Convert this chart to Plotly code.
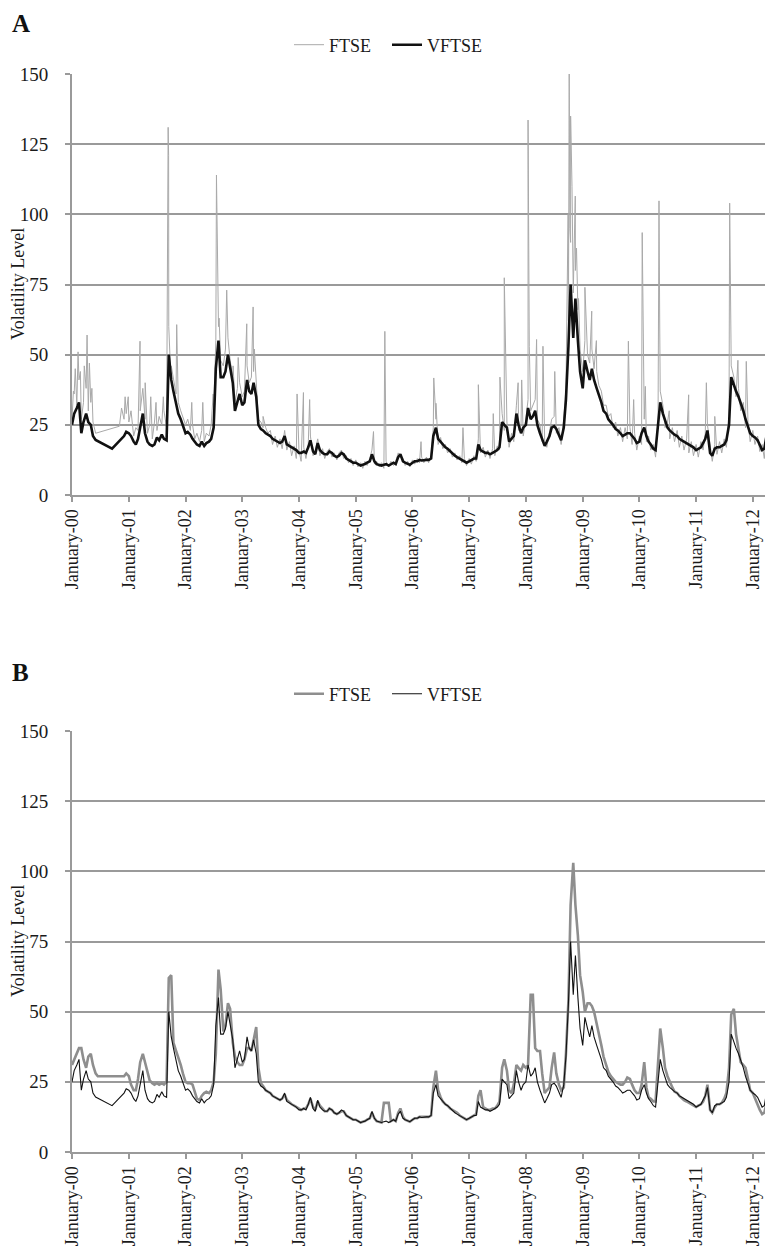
import plotly.graph_objects as go

N = None

# semi-monthly observation dates (1st and 15th of each month), Jan 2000 - May 2012
dates = []
for yr in range(2000, 2013):
    for mo in range(1, 13):
        if yr == 2012 and mo > 5:
            break
        dates.append(f"{yr}-{mo:02d}-01")
        dates.append(f"{yr}-{mo:02d}-15")

# VFTSE implied volatility (same series in both panels)
vftse = (
    [25, 29, 31, 33, 22, 26, 29, 26, 25, 21, 19.6, N, N, N, N, N, N, 16.5, N, N, N, N, 21, 22.5]      # 2000
    + [22, 21, 19, 18, 20, 24, 29, 22, 19, 18, 17.5, 18, 20.5, 19.5, 21.5, 20, 19.5, 50, 41, 37, 32, 29, 27, 25]  # 2001
    + [22, 22.5, 21.5, 20, 19, 18, 17.5, 19, 17.5, 18.5, 19, 20, 24, 45, 55, 42, 42, 44, 50, 46, 40, 30, 33, 36]  # 2002
    + [32, 33, 41, 37, 36, 40, 35, 25, 23.5, 23, 22, 21.5, 21, 20, 19.5, 19, 18.5, 19, 21, 18, 17.5, 17, 16.5, 16]  # 2003
    + [15, 15, 15.5, 15, 17, 19.5, 15.5, 14.5, 18.5, 16, 15, 14.5, 14.5, 15.5, 15, 14, 13.5, 14, 15, 14.5, 13, 12.5, 12, 11.5]  # 2004
    + [11.5, 11, 10.5, 10.8, 11, 11.5, 12, 14.5, 12, 11, 10.8, 10.5, 10.8, 11, 10.5, 11, 11.5, 11, 13.5, 14.5, 12, 11.5, 11, 10.8]  # 2005
    + [11.5, 12, 12, 12.5, 12.3, 12.5, 12.5, 12.5, 13, 21, 24, 20, 19, 18, 17, 16.5, 15.5, 15, 14, 13.5, 13, 12.5, 12, 11.5]  # 2006
    + [12, 12.5, 13, 13, 18, 16, 15.5, 15, 15, 14.5, 15, 15.5, 16, 17, 26, 25, 24, 19, 20, 21, 29, 25, 22, 24]  # 2007
    + [25, 31, 27, 28, 30, 25, 22, 20, 17.5, 19, 21, 24, 24.5, 23.5, 21, 19.5, 24, 34, 53, 75, 56, 70, 55, 44]  # 2008
    + [38, 48, 44, 41, 45, 41, 38, 36, 33, 30, 29, 27, 26, 25, 23.5, 23, 22, 21, 21.5, 22, 22, 21, 20, 18.5]  # 2009
    + [19, 22, 24, 21, 19, 18, 16.5, 16, 24, 33, 29, 27, 24, 23, 22, 21.5, 21, 20, 19.5, 19, 18.5, 18, 17.5, 17]  # 2010
    + [16, 16.5, 17, 18.5, 20, 23, 15, 14, 16.5, 17, 17, 17.5, 18, 19.5, 25, 42, 39, 37, 35, 33, 30, 27, 24, 22]  # 2011
    + [21, 20.5, 19.5, 18, 16, 16.5, 22, 23.5, 24, 23]  # 2012
)

# FTSE realised volatility, panel A (daily, noisy) - base level
ftse_a = (
    [27, 36, 32, 41, 27, 33, 38, 30, 33, 26, 22, N, N, N, N, N, N, N, N, N, 24.5, 31, 27, 29]  # 2000
    + [26, 30, 21, 24, 23, 30, 38, 27, 22, 25, 20, 26, 23, 28, 25, 30, 24, 60, 46, 42, 36, 33, 30, 28]  # 2001
    + [25, 27, 23, 25, 20, 22, 19, 23, 19, 22, 21, 25, 30, 55, 60, 48, 46, 52, 56, 48, 42, 33, 38, 40]  # 2002
    + [35, 37, 46, 40, 42, 44, 38, 27, 26, 24, 24, 22, 23, 18, 21, 17, 20, 16.5, 22, 16, 19, 14, 17.5, 13]  # 2003
    + [16, 12, 17, 13, 18, 21, 14, 16, 20, 14, 16.5, 13, 15.5, 16.5, 13.5, 15, 12.5, 15, 16, 13, 14, 11.5, 13, 10.5]  # 2004
    + [12.5, 10, 11.5, 9.5, 12, 10.5, 13, 16, 11, 12, 10, 11.5, 9.5, 12, 10, 12, 10.5, 12, 15, 13.5, 13, 10.5, 12, 10]  # 2005
    + [12.5, 11, 13, 11.5, 13.5, 11.5, 13.5, 11.5, 14, 24, 27, 18, 20.5, 16.5, 18, 15, 16.5, 13.5, 15, 12.5, 14, 11.5, 13, 10.5]  # 2006
    + [13, 11, 14, 12, 20, 15, 17, 13.5, 16, 13, 16.5, 14, 17.5, 16, 29, 23, 26, 17, 22, 19, 32, 23, 25, 21]  # 2007
    + [27, 34, 30, 32, 34, 27, 25, 19, 19, 17, 23, 27, 28, 22, 24, 18, 27, 38, 62, 90, 72, 80, 66, 52]  # 2008
    + [44, 55, 50, 47, 52, 45, 44, 39, 37, 32, 32, 28, 29, 24, 26, 21, 24, 19, 24, 20, 24, 18, 22, 16]  # 2009
    + [21, 18, 27, 19, 21, 16, 18, 13.5, 27, 37, 32, 24, 26, 20, 24, 19, 23, 17, 21, 16, 20, 15, 19, 14]  # 2010
    + [18, 13.5, 19, 16, 22, 25, 17, 12, 18, 14.5, 19, 15, 20, 17, 28, 46, 42, 35, 38, 30, 33, 24, 26, 19]  # 2011
    + [23, 18, 21, 15.5, 18, 13, 24, 20, 26, 21]  # 2012
)

# FTSE panel A: isolated daily spikes
spike_dates = [
    "2000-01-10", "2000-01-22", "2000-02-09", "2000-02-24", "2000-03-20", "2000-04-07", "2000-04-22", "2000-05-08",
    "2000-12-08", "2000-12-28", "2001-03-14", "2001-04-16", "2001-05-22", "2001-06-25", "2001-08-11", "2001-09-11",
    "2001-09-14", "2001-09-26", "2001-11-05",
    "2002-02-10", "2002-04-22", "2002-06-28", "2002-07-19", "2002-07-24", "2002-08-05", "2002-09-23", "2002-11-03", "2002-12-06",
    "2003-01-30", "2003-03-12", "2003-03-20", "2003-05-15", "2003-10-01",
    "2003-12-20", "2004-01-30", "2004-03-10",
    "2005-04-25", "2005-07-07", "2005-07-12",
    "2006-02-25", "2006-05-18", "2006-06-01", "2006-11-22",
    "2007-03-01", "2007-06-05", "2007-07-18", "2007-08-15", "2007-11-12", "2007-12-05",
    "2008-01-15", "2008-01-23", "2008-03-10", "2008-04-20", "2008-07-05", "2008-09-29", "2008-10-06", "2008-10-10",
    "2008-10-15", "2008-10-24", "2008-11-14", "2008-11-22", "2008-12-05",
    "2009-01-15", "2009-02-28", "2009-03-30", "2009-10-22", "2009-11-25",
    "2010-01-19", "2010-02-08", "2010-05-07", "2010-05-12", "2010-07-12", "2010-11-14",
    "2011-03-08", "2011-05-01", "2011-08-05", "2011-08-10", "2011-09-27", "2011-11-20",
]
spike_values = [
    37, 45, 51, 44, 46, 57, 47, 38,
    35, 35, 54.8, 40, 35, 33, 35, 131,
    121, 45, 60.7,
    33, 33, 36, 114, 96, 63, 73, 46, 49,
    61, 67, 52, 28, 23,
    36, 36.5, 34,
    22.6, 58.3, 30,
    19, 41.7, 32.7, 24,
    39.3, 29, 42, 77.4, 40, 41,
    133.6, 53, 55.4, 53, 44, 100, 150, 95,
    135, 110, 106.5, 88, 70,
    74, 65.5, 55, 54.8, 34,
    93.5, 38.7, 104.8, 57.7, 30, 35.7,
    40, 28, 104, 58, 48, 47.6,
]

# FTSE volatility, panel B (smoothed)
ftse_b = (
    [31, 33, 35, 37, 37, 33, 30, 34, 35, 31, 28, 27, N, N, N, N, N, N, N, N, N, N, 27, 28]  # 2000
    + [27, 24, 22, 22, 26, 32, 35, 32, 28, 25.5, 24.5, 24, 24.5, 24, 24.5, 24, 25, 62, 63, 39, 36, 34, 31, 28]  # 2001
    + [25, 24.5, 24.5, 24, 21, 19, 18.5, 20, 21, 21.5, 21, 22, 25, 35, 65, 58, 43, 45, 53, 51, 39, 34, 32, 31]  # 2002
    + [31, 33, 37, 37, 36, 40, 44.5, 30, 24.5, 23.5, 22, 21.5, 21, 20, 19.5, 19, 18.5, 19, 20.5, 18.5, 17.5, 17, 16.5, 16]  # 2003
    + [15.5, 15, 15.5, 15.5, 17, 19, 16, 15, 18, 16.5, 15.5, 14.5, 14.5, 15.5, 15, 14, 13.5, 14, 14.5, 14.5, 13, 12.5, 12, 11.5]  # 2004
    + [11.5, 11, 10.5, 10.8, 11, 11.5, 12, 14, 12, 11, 10.8, 10.5, 17.5, 17.5, 17.5, 11, 11.5, 11, 14, 15.5, 12.5, 11.5, 11, 10.8]  # 2005
    + [11.5, 12, 12, 12.5, 12.5, 12.5, 12.5, 12.5, 13, 23, 29, 22, 19.5, 18, 17, 16.5, 15.5, 15, 14.5, 14, 13, 12.5, 12, 11.5]  # 2006
    + [12, 12.5, 13, 13.5, 20, 22, 16, 15.5, 15, 15, 15.5, 15.5, 16.5, 18, 30, 33, 29, 22, 21, 24, 31, 30, 29, 31]  # 2007
    + [30, 31, 56, 56, 37, 36, 36, 28, 21, 22, 23, 30, 35.5, 28, 24, 22, 23, 35, 54, 88, 103, 88, 77, 63]  # 2008
    + [57, 50, 53, 53, 52, 50, 46, 42, 38, 34, 31, 28.5, 27, 26, 25, 24.5, 24, 24, 25, 26.5, 26, 24, 22, 21]  # 2009
    + [21, 24, 32, 23, 19.5, 19, 18, 18, 30, 44, 37, 30, 27, 25, 23, 21.5, 21, 20, 19, 18.5, 18, 17.5, 17, 16.5]  # 2010
    + [16, 16.5, 17, 18, 20, 24, 15, 14, 16, 17, 17, 17.5, 19, 21, 30, 49, 51, 42, 36, 32, 31, 30, 26, 22]  # 2011
    + [21, 19, 17, 15, 13.5, 14, 18, 20, 21, 21]  # 2012
)

year_ticks = [f"{y}-01-01" for y in range(2000, 2013)]
year_labels = [f"January-{y % 100:02d}" for y in range(2000, 2013)]
y_ticks = [0, 25, 50, 75, 100, 125, 150]

# merge base FTSE (panel A) with its spikes, in date order
pairs = sorted(list(zip(dates, ftse_a)) + list(zip(spike_dates, spike_values)), key=lambda p: p[0])
ftse_a_dates = [p[0] for p in pairs]
ftse_a_vals = [p[1] for p in pairs]

W, H = 773, 1249
OFF = 8  # the page body margin shifts the figure by 8px
FONT = "Liberation Serif, Times New Roman, serif"
GRID = "#9a9a9a"


def px(page_x):
    return (page_x - OFF) / W


def py(page_y):
    return 1 - (page_y - OFF) / H


fig = go.Figure()
fig.add_trace(go.Scatter(x=ftse_a_dates, y=ftse_a_vals, name="FTSE", mode="lines",
                         line=dict(color="#a9a9a9", width=1), connectgaps=True,
                         xaxis="x", yaxis="y", legend="legend", hoverinfo="skip"))
fig.add_trace(go.Scatter(x=dates, y=vftse, name="VFTSE", mode="lines",
                         line=dict(color="#111111", width=2.6), connectgaps=True,
                         xaxis="x", yaxis="y", legend="legend", hoverinfo="skip"))
fig.add_trace(go.Scatter(x=dates, y=ftse_b, name="FTSE", mode="lines",
                         line=dict(color="#8e8e8e", width=2.6), connectgaps=True,
                         xaxis="x2", yaxis="y2", legend="legend2", hoverinfo="skip"))
fig.add_trace(go.Scatter(x=dates, y=vftse, name="VFTSE", mode="lines",
                         line=dict(color="#111111", width=1.1), connectgaps=True,
                         xaxis="x2", yaxis="y2", legend="legend2", hoverinfo="skip"))

xdom = [px(72), px(773)]
xcommon = dict(type="date", range=["2000-01-01", "2012-05-10"], tickmode="array",
               tickvals=year_ticks, ticktext=year_labels, tickangle=-90,
               showgrid=False, showline=True, linecolor=GRID, linewidth=2,
               ticks="outside", ticklen=5, tickwidth=1.5, tickcolor=GRID,
               automargin=False,
               tickfont=dict(family=FONT, size=18, color="#1a1a1a"), zeroline=False)
ycommon = dict(range=[0, 150], tickmode="array", tickvals=y_ticks,
               showgrid=True, gridcolor=GRID, gridwidth=2,
               showline=True, linecolor=GRID, linewidth=2,
               ticks="outside", ticklen=5, tickwidth=1.5, tickcolor=GRID,
               ticklabelstandoff=13, automargin=False,
               tickfont=dict(family=FONT, size=19, color="#1a1a1a"), zeroline=False)

legend_common = dict(orientation="h", xanchor="center", yanchor="middle",
                     entrywidth=53, entrywidthmode="pixels",
                     font=dict(family=FONT, size=18, color="#1a1a1a"),
                     bgcolor="rgba(0,0,0,0)", itemclick=False, itemdoubleclick=False)

fig.update_layout(
    width=W, height=H, margin=dict(l=0, r=0, t=0, b=0, autoexpand=False),
    paper_bgcolor="white", plot_bgcolor="white",
    showlegend=True,
    xaxis=dict(domain=xdom, anchor="y", **xcommon),
    yaxis=dict(domain=[py(495), py(74)], anchor="x", **ycommon),
    xaxis2=dict(domain=xdom, anchor="y2", **xcommon),
    yaxis2=dict(domain=[py(1152), py(731)], anchor="x2", **ycommon),
    legend=dict(x=px(387), y=py(45), **legend_common),
    legend2=dict(x=px(387), y=py(694), **legend_common),
    annotations=[
        dict(text="<b>A</b>", x=px(10), y=py(24), xref="paper", yref="paper",
             xanchor="left", yanchor="middle", showarrow=False,
             font=dict(family=FONT, size=25, color="#111111")),
        dict(text="<b>B</b>", x=px(10), y=py(672), xref="paper", yref="paper",
             xanchor="left", yanchor="middle", showarrow=False,
             font=dict(family=FONT, size=25, color="#111111")),
        dict(text="Volatility Level", x=px(18), y=py(284), xref="paper", yref="paper",
             xanchor="center", yanchor="middle", textangle=-90, showarrow=False,
             font=dict(family=FONT, size=18, color="#1a1a1a")),
        dict(text="Volatility Level", x=px(18), y=py(941), xref="paper", yref="paper",
             xanchor="center", yanchor="middle", textangle=-90, showarrow=False,
             font=dict(family=FONT, size=18, color="#1a1a1a")),
    ],
)

fig.write_html("out.html")
